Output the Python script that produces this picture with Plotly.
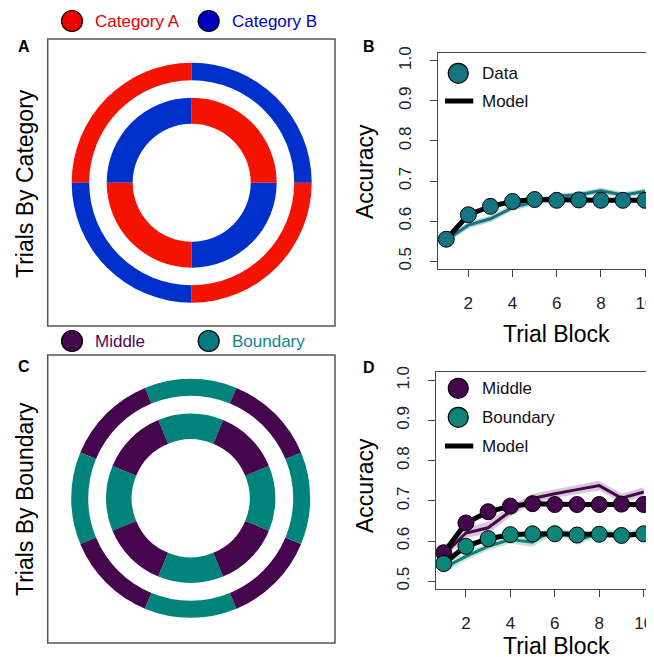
import plotly.graph_objects as go

# page offset of the plot inside the browser window (default body margin)
OX, OY = 8, 8
W, H = 654 - OX, 657 - OY
FONT = "Liberation Sans, Arial, Helvetica, sans-serif"

# ---------------- data ----------------
blocks = [1, 2, 3, 4, 5, 6, 7, 8, 9, 10]

# Panel B
b_model = [0.555, 0.616, 0.637, 0.649, 0.654, 0.652, 0.653, 0.652, 0.652, 0.652]
b_data = [0.553, 0.590, 0.606, 0.634, 0.648, 0.662, 0.666, 0.676, 0.665, 0.674]
b_data_se = [0.007, 0.008, 0.008, 0.008, 0.007, 0.007, 0.007, 0.007, 0.007, 0.007]

# Panel D
d_mid_model = [0.571, 0.645, 0.673, 0.687, 0.693, 0.691, 0.691, 0.691, 0.692, 0.691]
d_bnd_model = [0.544, 0.587, 0.606, 0.616, 0.618, 0.618, 0.615, 0.617, 0.614, 0.618]
d_mid_data = [0.566, 0.620, 0.633, 0.674, 0.706, 0.718, 0.728, 0.738, 0.707, 0.722]
d_mid_se = [0.010, 0.012, 0.015, 0.013, 0.012, 0.011, 0.011, 0.012, 0.011, 0.012]
d_bnd_data = [0.533, 0.562, 0.587, 0.604, 0.597, 0.632, 0.601, 0.620, 0.616, 0.620]
d_bnd_se = [0.012, 0.010, 0.010, 0.010, 0.011, 0.011, 0.010, 0.010, 0.010, 0.010]

# Rings, listed counterclockwise (panel A: category, panel C: boundary)
ring_a_outer = ["Category A", "Category B", "Category A", "Category B"]
ring_a_inner = ["Category B", "Category A", "Category B", "Category A"]
ring_c_outer = ["Boundary", "Middle"] * 4
ring_c_inner = ["Boundary", "Middle"] * 4

y_ticks = [0.5, 0.6, 0.7, 0.8, 0.9, 1.0]
y_ticklabels = ["0.5", "0.6", "0.7", "0.8", "0.9", "1.0"]
x_ticks = [2, 4, 6, 8, 10]

# ---------------- styles ----------------
RED_RING, BLUE_RING = "#F41200", "#0030CC"
PURPLE, TEAL_RING = "#45064E", "#00837A"
ring_colors = {"Category A": RED_RING, "Category B": BLUE_RING,
               "Middle": PURPLE, "Boundary": TEAL_RING}
TEAL_B = "#127580"
TEAL_D = "#0E8479"


def px(x):
    return (x - OX) / W


def py(y):
    return 1 - (y - OY) / H


fig = go.Figure()


def add_ring(labels, cx, cy, r_out, r_in, rotation):
    fig.add_trace(go.Pie(
        values=[1] * len(labels), labels=[f"{l} {i}" for i, l in enumerate(labels)],
        marker=dict(colors=[ring_colors[l] for l in labels], line=dict(width=0)),
        hole=r_in / r_out, sort=False, direction="counterclockwise",
        rotation=rotation,
        textinfo="none", hoverinfo="skip", showlegend=False,
        domain=dict(x=[px(cx - r_out), px(cx + r_out)],
                    y=[py(cy + r_out), py(cy - r_out)])))


add_ring(ring_a_outer, 191.7, 182.7, 120, 102.5, -90)
add_ring(ring_a_inner, 191.7, 182.7, 85, 59, -90)
add_ring(ring_c_outer, 190.7, 498.3, 119.5, 102.5, -22.5)
add_ring(ring_c_inner, 190.7, 498.3, 84.7, 59, -22.5)


def ribbon(mean, se, color, xa, ya):
    upper = [m + s for m, s in zip(mean, se)]
    lower = [m - s for m, s in zip(mean, se)]
    fig.add_trace(go.Scatter(x=blocks + blocks[::-1], y=upper + lower[::-1],
                             fill="toself", fillcolor=color, line=dict(width=0),
                             mode="lines", hoverinfo="skip", showlegend=False,
                             xaxis=xa, yaxis=ya))


def line(vals, color, width, xa, ya):
    fig.add_trace(go.Scatter(x=blocks, y=vals, mode="lines",
                             line=dict(color=color, width=width),
                             showlegend=False, xaxis=xa, yaxis=ya))


def model(vals, mcolor, xa, ya):
    fig.add_trace(go.Scatter(x=blocks, y=vals, mode="lines+markers",
                             line=dict(color="black", width=5), cliponaxis=False,
                             marker=dict(size=16, color=mcolor,
                                         line=dict(color="black", width=1)),
                             showlegend=False, xaxis=xa, yaxis=ya))


# Panel B
ribbon(b_data, b_data_se, "rgba(18,117,128,0.30)", "x", "y")
line(b_data, TEAL_B, 3, "x", "y")
model(b_model, TEAL_B, "x", "y")

# Panel D
ribbon(d_mid_data, d_mid_se, "rgba(69,6,78,0.22)", "x2", "y2")
line(d_mid_data, PURPLE, 3, "x2", "y2")
ribbon(d_bnd_data, d_bnd_se, "rgba(14,132,121,0.25)", "x2", "y2")
line(d_bnd_data, TEAL_D, 3, "x2", "y2")
model(d_mid_model, PURPLE, "x2", "y2")
model(d_bnd_model, TEAL_D, "x2", "y2")

axis_common = dict(showline=True, mirror=True, linecolor="#444", linewidth=1.3,
                   ticks="outside", ticklen=7, tickcolor="#444", tickwidth=1.3,
                   showgrid=False, zeroline=False, automargin=False,
                   ticklabeloverflow="allow",
                   tickfont=dict(family=FONT, size=17, color="#222"))

xax = dict(axis_common, range=[0.64, 10.36], tickvals=x_ticks, ticklabelstandoff=11)
yax = dict(axis_common, range=[0.48, 1.02], tickvals=y_ticks, ticktext=y_ticklabels,
           tickangle=-90, ticklabelstandoff=12)

fig.update_layout(
    width=W, height=H, margin=dict(l=0, r=0, t=0, b=0, autoexpand=False),
    paper_bgcolor="white", plot_bgcolor="white", showlegend=False,
    xaxis=dict(xax, domain=[px(438.3), px(653)], anchor="y"),
    yaxis=dict(yax, domain=[py(269.3), py(52.7)], anchor="x"),
    xaxis2=dict(xax, domain=[px(435.7), px(651.7)], anchor="y2"),
    yaxis2=dict(yax, domain=[py(589.3), py(372.3)], anchor="x2"),
)

shapes = []
annots = []


def rect(x0, y0, x1, y1):
    shapes.append(dict(type="rect", xref="paper", yref="paper",
                       x0=px(x0), x1=px(x1), y0=py(y1), y1=py(y0),
                       line=dict(color="#555", width=1.5), fillcolor="rgba(0,0,0,0)"))


def dot(x, y, color, d=21):
    shapes.append(dict(type="circle", xref="paper", yref="paper",
                       xsizemode="pixel", ysizemode="pixel",
                       xanchor=px(x), yanchor=py(y),
                       x0=-d / 2, x1=d / 2, y0=-d / 2, y1=d / 2,
                       fillcolor=color, line=dict(color="black", width=1.2)))


def dash(x0, x1, y):
    shapes.append(dict(type="line", xref="paper", yref="paper",
                       x0=px(x0), x1=px(x1), y0=py(y), y1=py(y),
                       line=dict(color="black", width=5)))


def text(x, y, s, size, color="#111", anchor="left", angle=0, bold=False):
    annots.append(dict(xref="paper", yref="paper", x=px(x), y=py(y),
                       text=f"<b>{s}</b>" if bold else s, showarrow=False,
                       xanchor=anchor, yanchor="middle", textangle=angle,
                       font=dict(family=FONT, size=size, color=color)))


rect(47.7, 39, 335, 326)
rect(47.7, 355, 335, 643)

# top legends
dot(72, 21, "#EE0000")
text(93, 21, "Category A", 17, "#E60000")
dot(208.7, 21, "#0000C0")
text(230, 21, "Category B", 17, "#0000C8")
dot(72, 341, "#45064E")
text(93, 341, "Middle", 17, "#4A0A55")
dot(208.7, 341, "#00787F")
text(230, 341, "Boundary", 17, "#12858F")

# in-plot legends
dot(458.3, 73.3, TEAL_B, 20)
text(480, 73.3, "Data", 17)
dash(445, 473.3, 101)
text(480, 101.5, "Model", 17)

dot(458.3, 388.3, PURPLE, 20)
text(480, 388.3, "Middle", 17)
dot(458.3, 417.3, TEAL_D, 20)
text(480, 417.3, "Boundary", 17)
dash(445, 473.3, 446)
text(480, 446.5, "Model", 17)

# panel letters
text(24, 47, "A", 16, "black", "center", bold=True)
text(369, 46, "B", 16, "black", "center", bold=True)
text(24, 366, "C", 16, "black", "center", bold=True)
text(369, 367, "D", 16, "black", "center", bold=True)

# titles
text(25, 184, "Trials By Category", 23, "black", "center", angle=-90)
text(25, 499, "Trials By Boundary", 23, "black", "center", angle=-90)
text(365, 172, "Accuracy", 23, "black", "center", angle=-90)
text(365, 486, "Accuracy", 23, "black", "center", angle=-90)
text(556, 334, "Trial Block", 23, "black", "center")
text(556.5, 646, "Trial Block", 23, "black", "center")

fig.update_layout(shapes=shapes, annotations=annots)
fig.write_html("out.html")
